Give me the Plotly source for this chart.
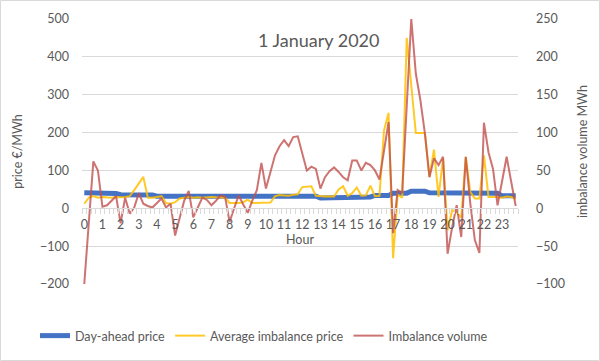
import plotly.graph_objects as go

hour_labels = [str(h) for h in range(24)]

day_ahead_hourly = [41, 39, 36, 35, 32, 30, 29, 29, 29, 30, 31, 32,
                    32, 27, 28, 30, 34, 40, 45, 41, 41, 41, 40, 33]

imbalance_price = [12, 28, 32, 28, 30, 29, 28, 30, 29, 30, 32, 48,
                   65, 83, 28, 28, 30, 32, 14, 12, 16, 26, 28, 30,
                   28, 29, 28, 29, 30, 29, 28, 28, 14, 14, 14, 16,
                   23, 14, 14, 14, 14, 15, 32, 35, 34, 33, 36, 37,
                   56, 57, 58, 33, 32, 31, 32, 31, 50, 58, 33, 40,
                   55, 33, 34, 60, 32, 33, 206, 252, -132, 36, 28, 450,
                   325, 199, 199, 199, 83, 155, 30, 131, -58, -5, -10, -25,
                   136, 43, 26, 26, 140, 30, 30, 30, 28, 31, 30, 24]

imbalance_volume = [-100, -19, 62, 50, 2, 4, 10, 16, -20, 14, -7, 1,
                    20, 6, 3, 1, 7, 13, 1, 6, -36, -12, 10, 23,
                    -12, 1, 14, 11, 4, 10, 17, 15, -18, 0, 17, 5,
                    -6, 10, 24, 60, 26, 48, 70, 82, 90, 82, 94, 95,
                    72, 50, 55, 52, 26, 41, 49, 54, 48, 41, 37, 63,
                    63, 50, 60, 57, 50, 38, 76, 114, -33, 24, 20, 135,
                    250, 178, 143, 99, 41, 66, 57, 68, -60, -25, 4, -38,
                    68, 6, -42, -59, 113, 74, 52, 4, 36, 68, 35, 3]

quarters = list(range(len(imbalance_price)))
day_ahead = [v for v in day_ahead_hourly for _ in range(4)]

FONT = "Lato"
GREY = "#595959"
FS = 12.5

fig = go.Figure()
fig.add_trace(go.Scatter(x=quarters, y=day_ahead, name="Day-ahead price",
                         mode="lines", line=dict(color="#4472C4", width=5)))
fig.add_trace(go.Scatter(x=quarters, y=imbalance_price, name="Average imbalance price",
                         mode="lines", line=dict(color="rgba(255,192,0,0.85)", width=2)))
fig.add_trace(go.Scatter(x=quarters, y=imbalance_volume, name="Imbalance volume",
                         mode="lines", yaxis="y2",
                         line=dict(color="rgba(192,80,77,0.8)", width=2)))

W, H = 600, 361
L, R, T, B = 82, 518, 19, 284
pw, ph = R - L, B - T

fig.update_layout(
    width=W, height=H,
    margin=dict(l=L, r=W - R, t=T, b=H - B, autoexpand=False),
    paper_bgcolor="white", plot_bgcolor="white",
    font=dict(family=FONT, size=FS, color=GREY),
    showlegend=True,
    legend=dict(orientation="h", x=(35 - L) / pw, xanchor="left",
                y=(B - 336) / ph, yanchor="middle",
                font=dict(size=FS, color=GREY), bgcolor="rgba(0,0,0,0)"),
    xaxis=dict(range=[-0.5, 95.5], tickmode="array",
               tickvals=[4 * h for h in range(24)], ticktext=hour_labels,
               ticks="", showgrid=False, zeroline=False, automargin=False,
               showline=True, linecolor="#D9D9D9", linewidth=1,
               anchor="free", position=200 / 700, ticklabelstandoff=5,
               tickfont=dict(size=FS, color=GREY),
               minor=dict(tickmode="linear", tick0=-0.5, dtick=1, ticks="outside",
                          ticklen=5, tickcolor="#D9D9D9", tickwidth=1, showgrid=False),
               title=dict(text="Hour", font=dict(size=FS, color=GREY), standoff=2)),
    yaxis=dict(range=[-200, 500], tickvals=list(range(-200, 501, 100)),
               showgrid=True, gridcolor="#D9D9D9", gridwidth=1, zeroline=False,
               ticks="", tickfont=dict(size=FS, color=GREY), automargin=False,
               ticklabelstandoff=12,
               title=dict(text="price €/MWh", font=dict(size=FS, color=GREY), standoff=14)),
    yaxis2=dict(range=[-100, 250], tickvals=list(range(-100, 251, 50)),
                overlaying="y", side="right", showgrid=False, zeroline=False,
                ticks="", tickfont=dict(size=FS, color=GREY), automargin=False,
                ticklabelstandoff=17,
                title=dict(text="imbalance volume MWh", font=dict(size=FS, color=GREY), standoff=14)),
    annotations=[dict(text="1 January 2020", x=(319 - L) / pw, y=(B - 40) / ph,
                      xref="paper", yref="paper", showarrow=False,
                      xanchor="center", yanchor="middle",
                      font=dict(size=18, color=GREY, family=FONT))],
    shapes=[dict(type="rect", xref="paper", yref="paper",
                 x0=(0.5 - L) / pw, x1=(W - 0.5 - L) / pw,
                 y0=(B - (H - 0.5)) / ph, y1=(B - 0.5) / ph,
                 line=dict(color="#D9D9D9", width=1), fillcolor="rgba(0,0,0,0)",
                 layer="below")],
)

fig.write_html("out.html", post_script="document.body.style.margin='0';",
               config={"displayModeBar": False})
